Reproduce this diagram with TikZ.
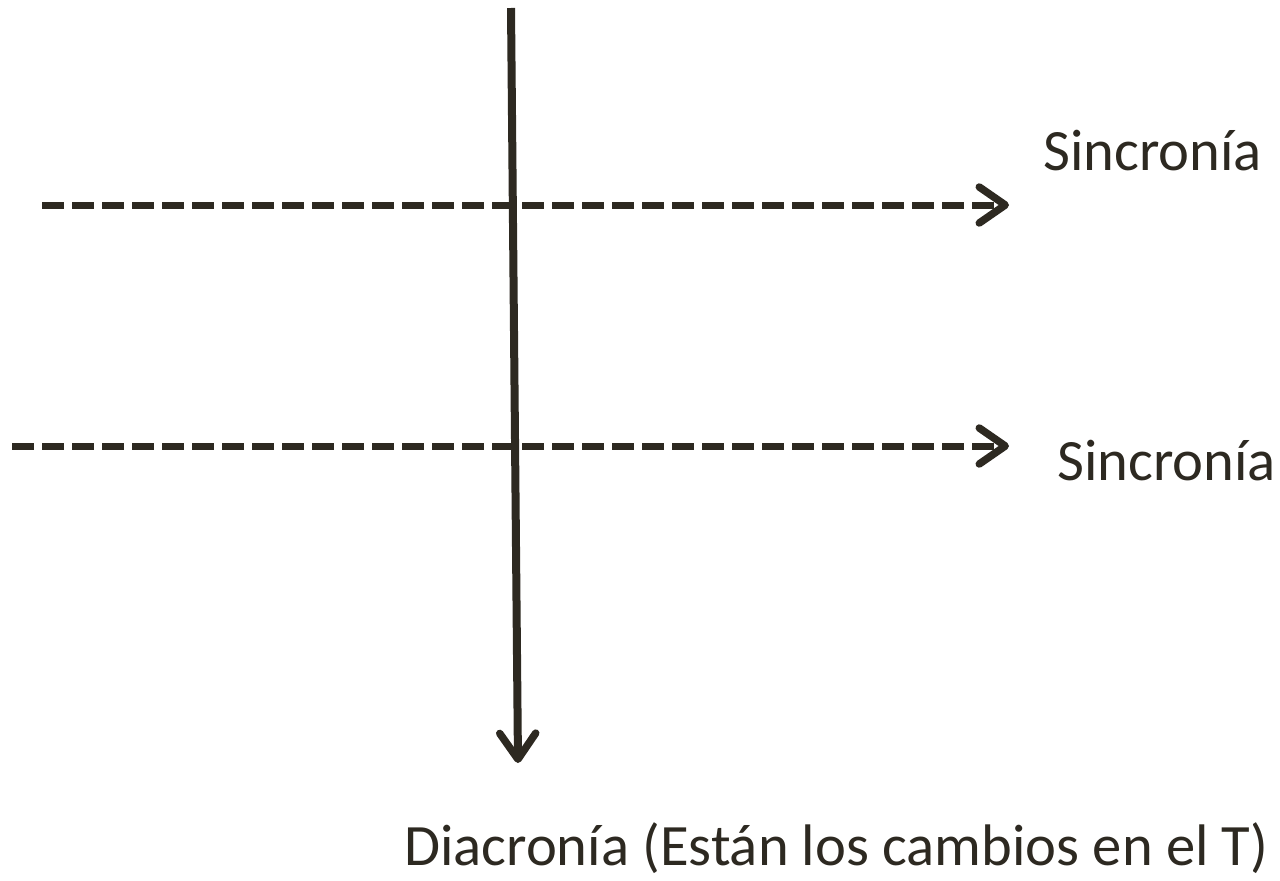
\documentclass[tikz,border=0pt]{standalone}
\usepackage{fontspec}
\setmainfont{Carlito}
\usetikzlibrary{arrows.meta}
\definecolor{ink}{RGB}{45,41,33}
\tikzset{
  chev/.style={-{Straight Barb[length=26pt,width=36pt,line width=7.5pt,round]}},
  axis/.style={draw=ink,line width=8pt,chev},
  sync/.style={draw=ink,line width=7pt,dash pattern=on 22pt off 8pt,chev},
  lbl/.style={text=ink,font=\fontsize{58.6}{70}\selectfont,inner sep=0pt,anchor=base west}
}
\begin{document}
\begin{tikzpicture}[x=1pt,y=-1pt]
\useasboundingbox (0,0) rectangle (1280,881);
\coordinate (vtop) at (511,8);
\coordinate (vbot) at (518,763);
\coordinate (s1a) at (42,205);
\coordinate (s1b) at (1009,205);
\coordinate (s2a) at (12,446);
\coordinate (s2b) at (1009,446);
\draw[axis] (vtop) -- (vbot);
\draw[sync] (s1a) -- (s1b);
\draw[sync] (s2a) -- (s2b);
\node[lbl] (l1) at (1043,170) {Sincronía};
\node[lbl] (l2) at (1057,480) {Sincronía};
\node[lbl] (l3) at (404,865) {Diacronía (Están los cambios en el T)};
\end{tikzpicture}
\end{document}
